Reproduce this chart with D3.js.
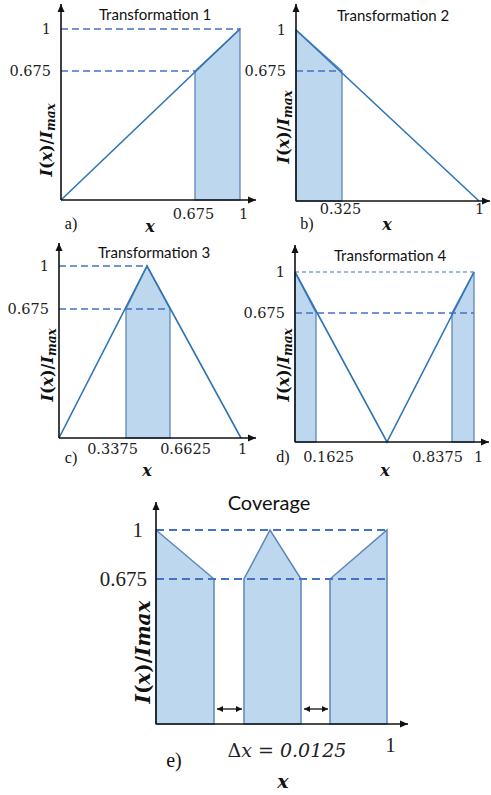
<!DOCTYPE html>
<html>
<head>
<meta charset="utf-8">
<script src="https://cdn.jsdelivr.net/npm/d3@7/dist/d3.min.js"></script>
<style>
  body { margin: 0; background: #fff; }
  .tick text { fill: #222; }
</style>
</head>
<body>
<svg id="fig" width="491" height="795"></svg>
<script>
// ---------- data ----------
var titles = ["Transformation 1", "Transformation 2", "Transformation 3", "Transformation 4", "Coverage"];
var panelTags = ["a)", "b)", "c)", "d)", "e)"];
var levels = [1, 0.675];                       // guide levels (y ticks)
var curveX = [[0, 1], [0, 1], [0, 0.5, 1], [0, 0.5, 1]];
var curveY = [[0, 1], [1, 0], [0, 1, 0], [1, 0, 1]];
var bands = [[[0.675, 1]], [[0, 0.325]], [[0.3375, 0.6625]], [[0, 0.1625], [0.8375, 1]]];
var xTickValues = [[0.675, 1], [0.325, 1], [0.3375, 0.6625, 1], [0.1625, 0.8375, 1], [1]];
// how far (in x) each guide line runs, per level [1, 0.675]
var guideEnds = [[1, 0.675], [0, 0.325], [0.5, 0.6625], [1, 1], [1, 1]];
var coverageBands = [[0, 0.325], [0.3375, 0.6625], [0.675, 1]];
var deltaX = 0.0125;

// ---------- layout (schematic, hand placed knots) ----------
var layout = [
  {xr: [61, 195, 240], yr: [200, 71, 29], xEnd: 256, yTop: 4, title: [155, 20], tag: [71, 229], xlab: [150, 232], ylab: [46, 140], xPad: 9, xDx: [-2, 3]},
  {xr: [296, 342, 479], yr: [201, 71, 30], xEnd: 490, yTop: 4, title: [393, 21], tag: [307, 229], xlab: [387, 230], ylab: [283, 127], xPad: 3, xDx: [-2, 0]},
  {xr: [59, 126, 147, 170, 241], yr: [438, 309, 266], xEnd: 256, yTop: 243, title: [154, 258], tag: [71, 463], xlab: [147, 476], ylab: [47, 365], xPad: 6, xDx: [-14, 15, 1]},
  {xr: [295, 316, 387, 452, 474], yr: [442, 313, 272], xEnd: 489, yTop: 245, title: [390, 261], tag: [283, 462], xlab: [385, 476], ylab: [283, 365], xPad: 10, xDx: [12, -15, 4]},
  {xr: [156, 214, 244, 270, 301, 330, 387], yr: [724, 579, 530], xEnd: 408, yTop: 502, title: [269, 510], tag: [174, 767], xlab: [283, 788], ylab: [143, 652], xPad: 13, xDx: [3]}
];

var lineBlue = "#2e75b6", fillBlue = "#bdd7ee", edgeBlue = "#5f86bb", dashBlue = "#4472c4";
var serif = "'DejaVu Serif', serif", serif2 = "'Liberation Serif', serif", sans = "Lato, 'Open Sans', sans-serif";

var svg = d3.select("#fig");
var defs = svg.append("defs");
defs.append("marker").attr("id", "arr")
  .attr("markerUnits", "userSpaceOnUse").attr("markerWidth", 9).attr("markerHeight", 8)
  .attr("refX", 8).attr("refY", 4).attr("orient", "auto-start-reverse")
  .append("path").attr("d", "M0,0.5L8,4L0,7.5z").attr("fill", "#111");
defs.append("marker").attr("id", "arrS")
  .attr("markerUnits", "userSpaceOnUse").attr("markerWidth", 7).attr("markerHeight", 6)
  .attr("refX", 6).attr("refY", 3).attr("orient", "auto-start-reverse")
  .append("path").attr("d", "M0,0L6,3L0,6z").attr("fill", "#111");

function interp(xs, ys, x) {
  for (var i = 0; i < xs.length - 1; i++) {
    if (x >= xs[i] && x <= xs[i + 1]) {
      var t = (x - xs[i]) / (xs[i + 1] - xs[i]);
      return ys[i] + t * (ys[i + 1] - ys[i]);
    }
  }
  return 0;
}
function envelope(x) {   // coverage = best of all transformations
  return d3.max(curveX, function(xs, k) { return interp(xs, curveY[k], x); });
}

function knots(i) {
  var v = xTickValues[i].slice();
  if (i < 4) v = v.concat(curveX[i]);
  else { coverageBands.forEach(function(b) { v = v.concat(b); }); v.push(0.5); }
  v.push(0);
  return Array.from(new Set(v)).sort(d3.ascending);
}

layout.forEach(function(L, i) {
  var big = i === 4;
  var x = d3.scaleLinear().domain(knots(i)).range(L.xr);
  var y = d3.scaleLinear().domain([0, 0.675, 1]).range(L.yr);
  var g = svg.append("g");
  var fval = big ? envelope : function(v) { return interp(curveX[i], curveY[i], v); };
  var bandList = big ? coverageBands : bands[i];
  var inner = big ? [0.5] : curveX[i];

  // shaded bands
  var line = d3.line().x(function(d) { return x(d[0]); }).y(function(d) { return y(d[1]); });
  bandList.forEach(function(b) {
    var pts = [[b[0], 0]];
    var xs = [b[0]].concat(inner.filter(function(v) { return v > b[0] && v < b[1]; }), [b[1]]);
    xs.forEach(function(v) { pts.push([v, fval(v)]); });
    pts.push([b[1], 0]);
    g.append("path").attr("d", line(pts) + "Z")
      .attr("fill", fillBlue).attr("stroke", edgeBlue).attr("stroke-width", big ? 1.5 : 1.3);
  });

  // transformation curve
  if (!big) {
    g.append("path").attr("d", line(d3.zip(curveX[i], curveY[i])))
      .attr("fill", "none").attr("stroke", lineBlue).attr("stroke-width", 1.6);
  }

  // guide lines
  levels.forEach(function(lv, k) {
    var xe = guideEnds[i][k];
    if (xe <= 0) return;
    var thin = (i === 3 && k === 0);
    g.append("line")
      .attr("x1", x(0)).attr("x2", x(xe)).attr("y1", y(lv)).attr("y2", y(lv))
      .attr("stroke", dashBlue).attr("stroke-width", big ? 2.2 : (thin ? 1.1 : 1.5))
      .attr("stroke-dasharray", big ? "8,5" : (thin ? "4,3" : "7,4"));
  });

  // axes lines with arrows
  g.append("line").attr("x1", x(0)).attr("y1", y(0)).attr("x2", x(0)).attr("y2", L.yTop)
    .attr("stroke", "#111").attr("stroke-width", 1.6).attr("marker-end", "url(#arr)");
  g.append("line").attr("x1", x(0)).attr("y1", y(0)).attr("x2", L.xEnd).attr("y2", y(0))
    .attr("stroke", "#111").attr("stroke-width", 1.6).attr("marker-end", "url(#arr)");

  // tick labels via d3 axes
  var tickFont = big ? serif2 : serif, tickSize = big ? "21px" : "14.5px";
  var xa = g.append("g").attr("transform", "translate(0," + y(0) + ")")
    .call(d3.axisBottom(x).tickValues(xTickValues[i]).tickSize(0).tickPadding(L.xPad).tickFormat(String));
  xa.select(".domain").remove();
  xa.selectAll("text").attr("font-family", tickFont).attr("font-size", tickSize)
    .attr("dx", function(d, j) { return L.xDx[j]; });
  var ya = g.append("g").attr("transform", "translate(" + x(0) + ",0)")
    .call(d3.axisLeft(y).tickValues(levels).tickSize(0).tickPadding(big ? 9 : 10).tickFormat(String));
  ya.select(".domain").remove();
  ya.selectAll("text").attr("font-family", tickFont).attr("font-size", tickSize)
    .attr("dx", function(d) { return big && d === 1 ? -4 : 0; });

  // title
  g.append("text").attr("x", L.title[0]).attr("y", L.title[1]).attr("text-anchor", "middle")
    .attr("font-family", sans).attr("font-size", big ? 20 : 15).attr("fill", "#111").text(titles[i]);
  // panel tag
  g.append("text").attr("x", L.tag[0]).attr("y", L.tag[1]).attr("text-anchor", "middle")
    .attr("font-family", serif2).attr("font-size", big ? 20 : 16).attr("fill", "#111").text(panelTags[i]);
  // x label
  g.append("text").attr("x", L.xlab[0]).attr("y", L.xlab[1]).attr("text-anchor", "middle")
    .attr("font-family", serif).attr("font-size", big ? 19 : 16).attr("font-weight", "bold")
    .attr("font-style", "italic").attr("fill", "#111").text("x");
  // y label
  var yl = g.append("text").attr("transform", "translate(" + L.ylab[0] + "," + L.ylab[1] + ") rotate(-90)")
    .attr("text-anchor", "middle").attr("dy", "0.35em")
    .attr("font-family", serif).attr("font-size", big ? 20 : 16).attr("font-weight", "bold")
    .attr("font-style", "italic").attr("fill", "#111");
  yl.append("tspan").text("I");
  yl.append("tspan").attr("font-style", "normal").text("(");
  yl.append("tspan").text("x");
  yl.append("tspan").attr("font-style", "normal").text(")/");
  yl.append("tspan").text("I");
  if (big) yl.append("tspan").text("max");
  else { yl.append("tspan").attr("font-size", "0.75em").attr("dy", "0.3em").text("max"); }

  if (big) {
    // gap arrows between coverage blocks
    for (var k = 0; k < coverageBands.length - 1; k++) {
      var a = coverageBands[k][1], b = coverageBands[k + 1][0];
      g.append("line").attr("x1", x(a) + 3).attr("x2", x(b) - 2).attr("y1", y(0) - 15).attr("y2", y(0) - 15)
        .attr("stroke", "#111").attr("stroke-width", 1.3)
        .attr("marker-start", "url(#arrS)").attr("marker-end", "url(#arrS)");
    }
    var dt = g.append("text").attr("x", 287).attr("y", 757).attr("text-anchor", "middle")
      .attr("font-family", serif).attr("font-size", 19).attr("font-style", "italic").attr("fill", "#222");
    dt.append("tspan").attr("font-style", "normal").text("\u0394");
    dt.append("tspan").text("x = " + deltaX);
  }
});
</script>
</body>
</html>
